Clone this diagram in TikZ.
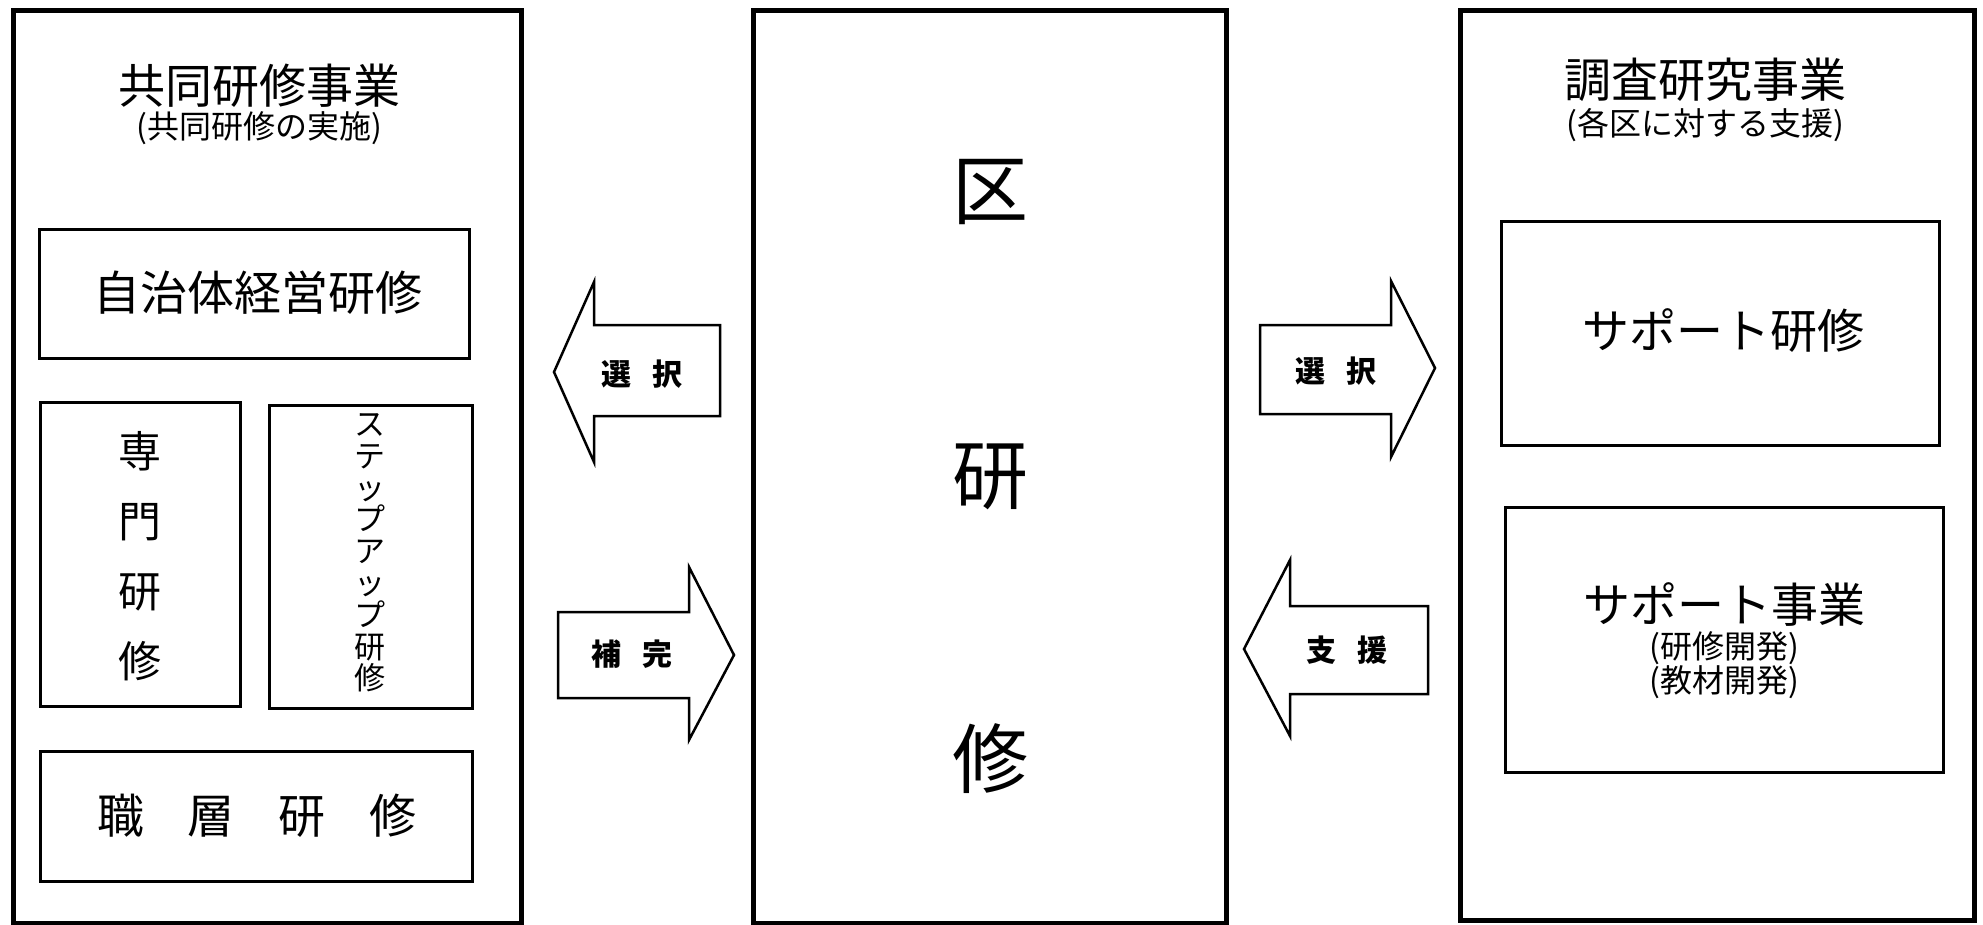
\documentclass[tikz,border=0pt]{standalone}
\usepackage{fontspec}
\setmainfont{Noto Sans CJK JP}
\begin{document}
\begin{tikzpicture}[x=1pt,y=-1pt,
  outerbox/.style={draw, line width=5pt, inner sep=0pt, outer sep=0pt},
  innerbox/.style={draw, line width=3pt, inner sep=0pt, outer sep=0pt},
  blockarrow/.style={draw, line width=2.5pt, line join=miter, fill=white},
  big/.style={font=\fontsize{47}{47}\selectfont, inner sep=0pt},
  sub/.style={font=\fontsize{32}{32}\selectfont, inner sep=0pt},
  arrowtext/.style={font=\fontsize{30}{30}\selectfont\bfseries, inner sep=0pt}]
\useasboundingbox (0,0) rectangle (1983,924);
\fill[white] (0,0) rectangle (1983,924);

% outer boxes
\node[outerbox, minimum width=508pt, minimum height=913pt] (leftbox) at (267,466.5) {};
\node[outerbox, minimum width=473pt, minimum height=913pt] (centerbox) at (989.5,466.5) {};
\node[outerbox, minimum width=514pt, minimum height=910pt] (rightbox) at (1717,465) {};

% left column
\node[big] (ltitle) at (259,86) {共同研修事業};
\node[sub] (lsub) at (259,128) {(共同研修の実施)};
\node[innerbox, minimum width=430pt, minimum height=129pt] (jichi) at (254,293.5) {};
\node[big] (jichitext) at (258,293) {自治体経営研修};
\node[innerbox, minimum width=200pt, minimum height=304pt] (senmon) at (140,554) {};
\node[align=center, font=\fontsize{43}{70}\selectfont, inner sep=0pt] (senmontext) at (140,556) {専\\門\\研\\修};
\node[innerbox, minimum width=203pt, minimum height=303pt] (step) at (370.5,556.5) {};
\node[align=center, font=\fontsize{31}{31.8}\selectfont, inner sep=0pt] (steptext) at (370,553) {ス\\テ\\ッ\\プ\\ア\\ッ\\プ\\研\\修};
\node[innerbox, minimum width=432pt, minimum height=130pt] (shokuso) at (256,816) {};
\node[big] (shokusotext) at (257,816) {職\hspace{44pt}層\hspace{44pt}研\hspace{44pt}修};

% center column
\node[font=\fontsize{76}{76}\selectfont, inner sep=0pt] (ku) at (990,192) {区};
\node[font=\fontsize{76}{76}\selectfont, inner sep=0pt] (ken) at (990,477) {研};
\node[font=\fontsize{76}{76}\selectfont, inner sep=0pt] (shu) at (990,759) {修};

% right column
\node[big] (rtitle) at (1705,80) {調査研究事業};
\node[sub] (rsub) at (1705,125) {(各区に対する支援)};
\node[innerbox, minimum width=438pt, minimum height=224pt] (sptraining) at (1720,333) {};
\node[big] (sptext) at (1723,331) {サポート研修};
\node[innerbox, minimum width=438pt, minimum height=265pt] (spbusiness) at (1724,639.5) {};
\node[big] (sbtext) at (1724,604) {サポート事業};
\node[sub] (sbsub1) at (1724,648) {(研修開発)};
\node[sub] (sbsub2) at (1724,682) {(教材開発)};

% block arrows
\draw[blockarrow] (554,372) -- (594,282) -- (594,325) -- (720,325) -- (720,416) -- (594,416) -- (594,462) -- cycle;
\node[arrowtext] (sel1) at (642,374) {選\hspace{21pt}択};

\draw[blockarrow] (734,655) -- (689,567) -- (689,612) -- (558,612) -- (558,698) -- (689,698) -- (689,740) -- cycle;
\node[arrowtext] (hokan) at (632,654) {補\hspace{21pt}完};

\draw[blockarrow] (1435,368) -- (1391,281) -- (1391,325) -- (1260,325) -- (1260,414) -- (1391,414) -- (1391,457) -- cycle;
\node[arrowtext] (sel2) at (1336,371) {選\hspace{21pt}択};

\draw[blockarrow] (1244,649) -- (1290,560) -- (1290,606) -- (1428,606) -- (1428,694) -- (1290,694) -- (1290,736) -- cycle;
\node[arrowtext] (shien) at (1347,650) {支\hspace{21pt}援};
\end{tikzpicture}
\end{document}
